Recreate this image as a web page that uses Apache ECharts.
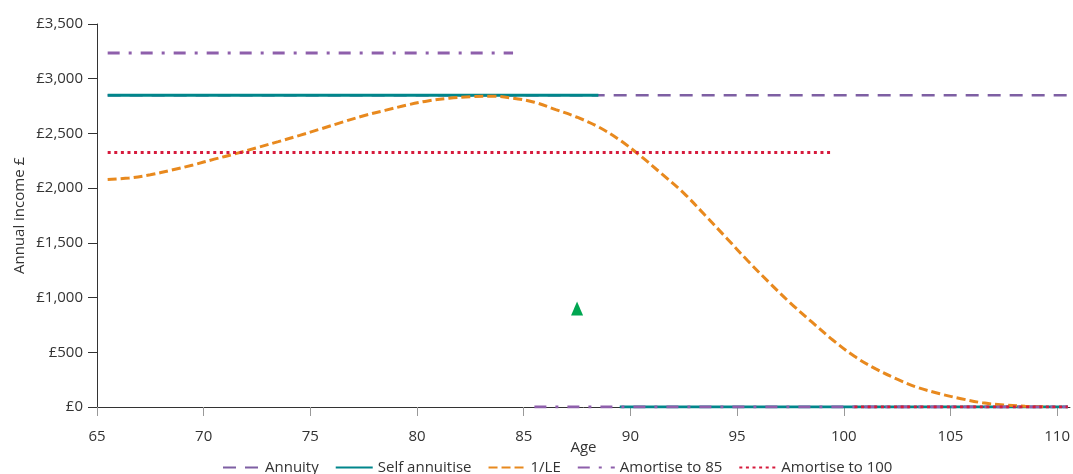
<!DOCTYPE html>
<html>
<head>
<meta charset="utf-8">
<script src="https://cdn.jsdelivr.net/npm/echarts@6/dist/echarts.min.js"></script>
<style>
html,body{margin:0;padding:0;background:#fff;}
#chart{width:1073px;height:474px;}
</style>
</head>
<body>
<div id="chart"></div>
<script>
// Ages (half-year points)
var ages = [65.5,66.5,67.5,68.5,69.5,70.5,71.5,72.5,73.5,74.5,75.5,76.5,77.5,78.5,79.5,80.5,81.5,82.5,83.5,84.5,85.5,86.5,87.5,88.5,89.5,90.5,91.5,92.5,93.5,94.5,95.5,96.5,97.5,98.5,99.5,100.5,101.5,102.5,103.5,104.5,105.5,106.5,107.5,108.5,109.5,110.5];

var annuity = [2850,2850,2850,2850,2850,2850,2850,2850,2850,2850,2850,2850,2850,2850,2850,2850,2850,2850,2850,2850,2850,2850,2850,2850,2850,2850,2850,2850,2850,2850,2850,2850,2850,2850,2850,2850,2850,2850,2850,2850,2850,2850,2850,2850,2850,2850];

var selfAnnuitise = [2850,2850,2850,2850,2850,2850,2850,2850,2850,2850,2850,2850,2850,2850,2850,2850,2850,2850,2850,2850,2850,2850,2850,2850,0,0,0,0,0,0,0,0,0,0,0,0,0,0,0,0,0,0,0,0,0,0];

var oneOverLE = [2078,2092,2122,2165,2212,2265,2315,2370,2425,2482,2542,2603,2662,2711,2758,2797,2822,2836,2840,2822,2785,2718,2648,2560,2440,2290,2125,1955,1752,1545,1336,1138,950,777,610,463,348,254,176,121,76,38,18,7,2,0];

var amortise85 = [3235,3235,3235,3235,3235,3235,3235,3235,3235,3235,3235,3235,3235,3235,3235,3235,3235,3235,3235,3235,0,0,0,0,0,0,0,0,0,0,0,0,0,0,0,0,0,0,0,0,0,0,0,0,0,0];

var amortise100 = [2325,2325,2325,2325,2325,2325,2325,2325,2325,2325,2325,2325,2325,2325,2325,2325,2325,2325,2325,2325,2325,2325,2325,2325,2325,2325,2325,2325,2325,2325,2325,2325,2325,2325,2325,0,0,0,0,0,0,0,0,0,0,0];

var markerPoint = [[87.5, 900]];

var seriesNames = ['Annuity','Self annuitise','1/LE','Amortise to 85','Amortise to 100'];
var yTicks = {min:0, max:3500, interval:500};
var xTicks = {min:65, max:110.6, interval:5};

// build [age,value] pairs; break the line where income drops to zero
function pairs(vals){
  var out = [];
  for (var i = 0; i < ages.length; i++){
    if (i > 0 && vals[i-1] > 0 && vals[i] === 0){
      out.push([(ages[i-1] + ages[i]) / 2, '-']);
    }
    out.push([ages[i], vals[i]]);
  }
  return out;
}

var FONT = '"Open Sans", "Liberation Sans", sans-serif';
var chart = echarts.init(document.getElementById('chart'), null, {renderer:'canvas'});

function lineSeries(name, vals, color, width, type, z, smooth){
  return {
    name: name, type: 'line', data: pairs(vals), symbol: 'none', z: z,
    connectNulls: false, animation: false,
    smooth: smooth ? 0.35 : false,
    lineStyle: {color: color, width: width, type: type, cap: 'butt'},
    itemStyle: {color: color}
  };
}

chart.setOption({
  animation: false,
  textStyle: {fontFamily: FONT},
  grid: {left: 97, right: 3, top: 24, bottom: 67, containLabel: false},
  legend: {
    data: seriesNames,
    left: 217, top: 455,
    itemWidth: 37, itemHeight: 12, itemGap: 16,
    itemStyle: {opacity: 0},
    textStyle: {fontFamily: FONT, fontSize: 15, color: '#333'}
  },
  xAxis: {
    type: 'value', min: xTicks.min, max: xTicks.max, interval: xTicks.interval,
    name: 'Age', nameLocation: 'middle', nameGap: 33, nameMoveOverlap: false,
    nameTextStyle: {fontFamily: FONT, fontSize: 15, color: '#333'},
    axisLine: {show: true, onZero: false, lineStyle: {color: '#333', width: 1}},
    axisTick: {show: true, length: 9, lineStyle: {color: '#999'}},
    axisLabel: {fontFamily: FONT, fontSize: 15, color: '#333', margin: 22},
    splitLine: {show: false}
  },
  yAxis: {
    type: 'value', min: yTicks.min, max: yTicks.max, interval: yTicks.interval,
    name: 'Annual income £', nameLocation: 'middle', nameGap: 70, nameRotate: 90,
    nameMoveOverlap: false,
    nameTextStyle: {fontFamily: FONT, fontSize: 15, color: '#333'},
    axisLine: {show: true, lineStyle: {color: '#333', width: 1}},
    axisTick: {show: true, length: 9, lineStyle: {color: '#333'}},
    axisLabel: {fontFamily: FONT, fontSize: 15, color: '#333', margin: 14,
      formatter: function(v){ return '£' + v.toLocaleString('en-GB'); }},
    splitLine: {show: false}
  },
  series: [
    lineSeries('Annuity', annuity, '#7e5fa3', 2.5, [13, 9], 2, false),
    lineSeries('Self annuitise', selfAnnuitise, '#00868b', 3, 'solid', 3, false),
    lineSeries('1/LE', oneOverLE, '#e8891e', 3, [9, 4], 4, true),
    lineSeries('Amortise to 85', amortise85, '#8e5fab', 3, [12, 9, 3, 9], 5, false),
    lineSeries('Amortise to 100', amortise100, '#d61a3c', 3, [3, 3.6], 6, false),
    {
      name: 'marker', type: 'scatter', data: markerPoint, symbol: 'triangle',
      symbolSize: [12, 14], itemStyle: {color: '#00a651', opacity: 1}, z: 7, silent: true
    }
  ]
});
</script>
</body>
</html>
